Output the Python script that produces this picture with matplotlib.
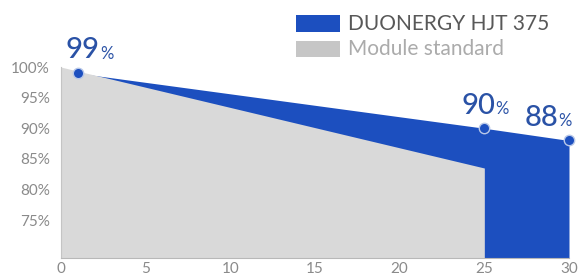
import matplotlib
matplotlib.use("Agg")
import matplotlib.pyplot as plt
from matplotlib.patches import Rectangle

plt.rcParams['font.family'] = ['Lato', 'DejaVu Sans']

# Data
duo_years = [1, 25, 30]
duo_values = [99, 90, 88]
std_years = [0, 25]
std_values = [100, 83.5]
label_years = [1, 25, 30]
label_values = [99, 90, 88]
x_ticks = [0, 5, 10, 15, 20, 25, 30]
y_ticks = [75, 80, 85, 90, 95, 100]
series_names = ["DUONERGY HJT 375", "Module standard"]

BLUE = "#1c4fbf"
BLUE_TXT = "#2a52a6"
GRAY = "#d9d9d9"
GRAY_LEG = "#c6c6c6"
TICK = "#8a8a8a"

W, H = 580, 278
fig = plt.figure(figsize=(W / 100, H / 100), dpi=100)
ymin, ymax = 68.79, 110.0
ax = fig.add_axes([61 / W, 1 - 258 / H, (569 - 61) / W, (258 - 5.9) / H])
ax.set_xlim(0, 30)
ax.set_ylim(ymin, ymax)

# blue area (DUONERGY) to bottom
ax.fill_between(duo_years, duo_values, ymin, color=BLUE, lw=0, zorder=1)
# gray area (standard) on top
ax.fill_between(std_years, std_values, ymin, color=GRAY, lw=0, zorder=2)

# markers
ax.plot(label_years, label_values, 'o', ms=7.5, mfc=BLUE, mec="#b9c8e8", mew=1.0,
        zorder=5, clip_on=False)

# annotations: right edge of number relative to dot (px -> pt at 100 dpi)
num_right_px = [22, 11, -11]
for xv, yv, dx in zip(label_years, label_values, num_right_px):
    dxp = dx * 0.72
    ax.annotate(f"{yv}", (xv, yv), xytext=(dxp, 7), textcoords='offset points',
                ha='right', va='bottom', fontsize=21,
                color=BLUE_TXT, fontweight='medium', zorder=6,
                annotation_clip=False)
    ax.annotate("%", (xv, yv), xytext=(dxp + 0.3, 8), textcoords='offset points',
                ha='left', va='bottom', fontsize=12, color=BLUE_TXT,
                zorder=6, annotation_clip=False)

for s in ['top', 'right']:
    ax.spines[s].set_visible(False)
ax.spines['left'].set_bounds(ymin, 100)
ax.spines['left'].set_color("#c4c4c4")
ax.spines['bottom'].set_color("#b8b8b8")
ax.spines['left'].set_linewidth(0.8)
ax.spines['bottom'].set_linewidth(0.8)

ax.set_xticks(x_ticks)
ax.set_xticklabels([str(v) for v in x_ticks])
ax.set_yticks(y_ticks)
ax.set_yticklabels([f"{v}%" for v in y_ticks])
ax.tick_params(axis='both', length=0, labelsize=11, colors=TICK)
ax.tick_params(axis='y', pad=8)
ax.tick_params(axis='x', pad=3)

# legend (manual)
fig.patches.append(Rectangle((296 / W, 1 - 32 / H), 44 / W, 17 / H,
                             transform=fig.transFigure, color=BLUE, lw=0))
fig.patches.append(Rectangle((296 / W, 1 - 57 / H), 44 / W, 16 / H,
                             transform=fig.transFigure, color=GRAY_LEG, lw=0))
fig.text(348 / W, 1 - 24 / H, series_names[0], fontsize=15, color="#585858",
         va='center', ha='left')
fig.text(348 / W, 1 - 49 / H, series_names[1], fontsize=15, color="#ababab",
         va='center', ha='left')

fig.savefig("out.png", dpi=100)
